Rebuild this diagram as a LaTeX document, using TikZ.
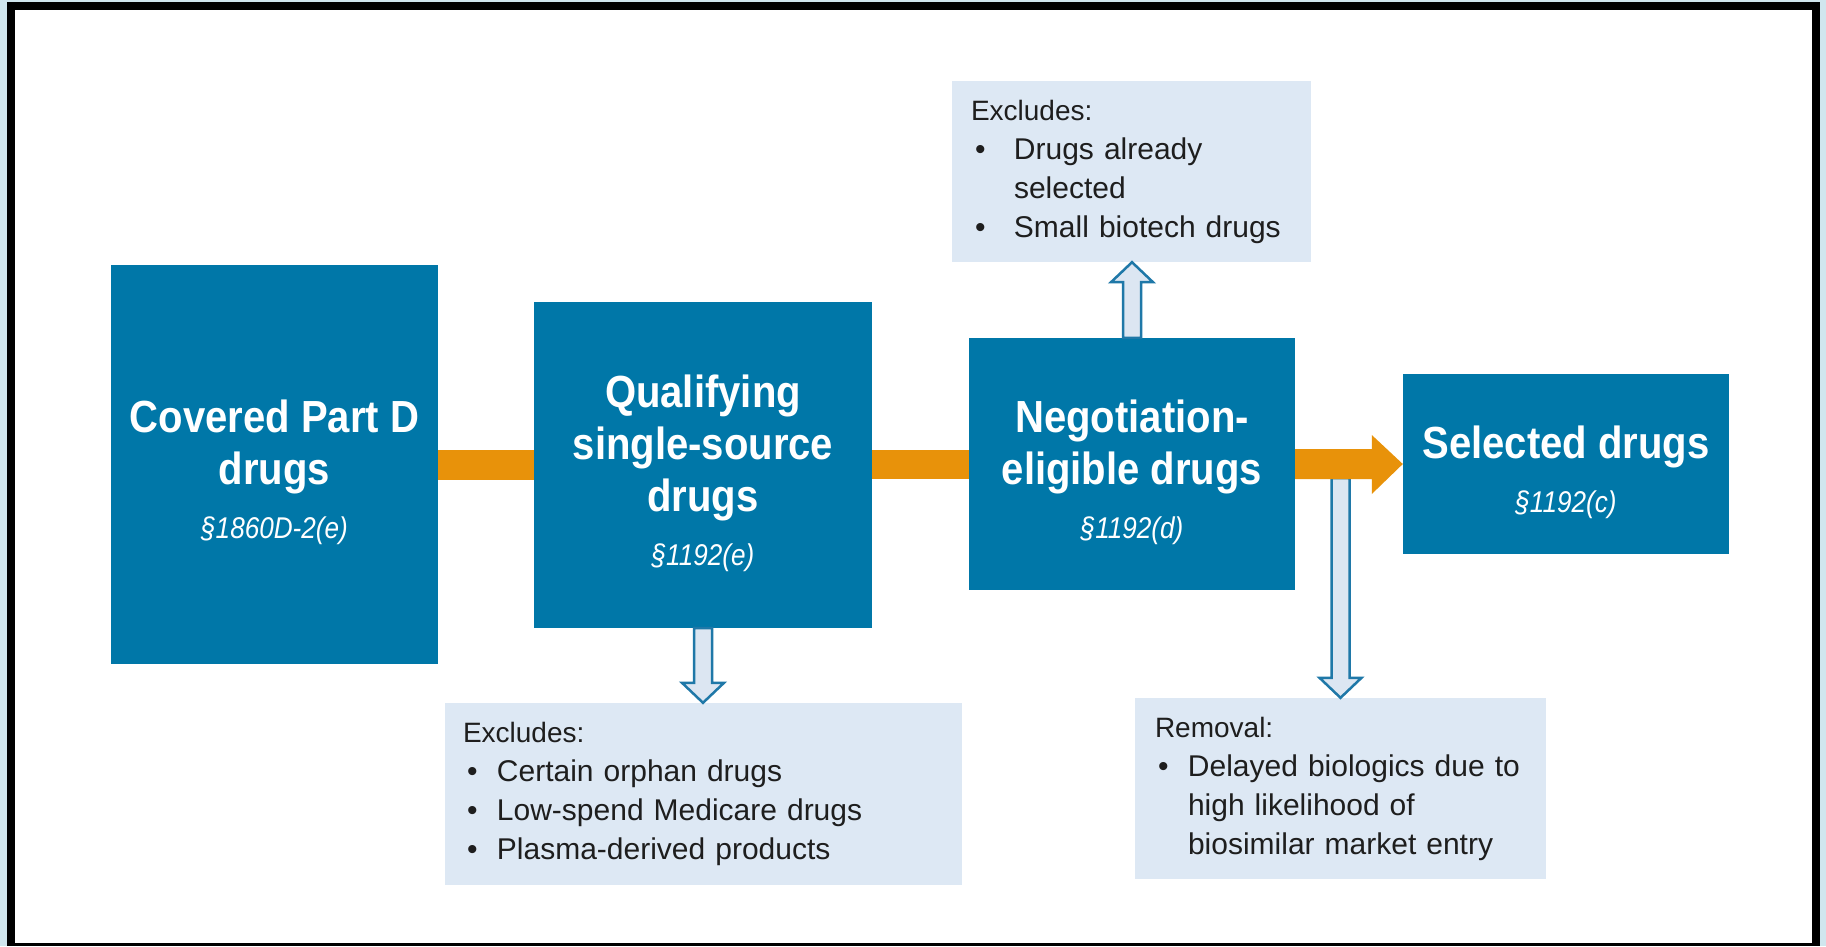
\documentclass[tikz,border=0pt]{standalone}
\usepackage{fontspec}
\setmainfont{Liberation Sans}
\newfontfamily\titlefont[FakeStretch=0.89]{Liberation Sans}
\newfontfamily\secfont[FakeStretch=0.87]{Liberation Sans}
\usetikzlibrary{calc}
\definecolor{boxblue}{RGB}{0,119,168}
\definecolor{lightbox}{RGB}{221,232,244}
\definecolor{flow}{RGB}{232,146,10}
\definecolor{arrowfill}{RGB}{220,230,242}
\definecolor{edgeblue}{RGB}{31,120,168}
\definecolor{strip}{RGB}{208,230,238}
\definecolor{bodytext}{RGB}{30,30,30}
\newcommand\secref[1]{{\secfont\fontsize{30}{34}\selectfont\mdseries\itshape #1}}
\newcommand\topstrut{\rule{0pt}{49pt}}
\newcommand\bul[2]{\hspace*{#1}\makebox[#2][l]{\textbullet}}
\newcommand\hdr[2]{\hspace*{#1}{\fontsize{28}{39}\selectfont #2}}
\newcommand\hollowarrow[3]{\draw[hollow] let \p1=(#1), \p2=(#2) in
  ({\x1-9pt},{\y1}) -- ({\x1-9pt},{\y2+#3}) -- ({\x1-21pt},{\y2+#3}) -- ({\x1},{\y2})
  -- ({\x1+21pt},{\y2+#3}) -- ({\x1+9pt},{\y2+#3}) -- ({\x1+9pt},{\y1}) -- cycle;}
\begin{document}
\begin{tikzpicture}[x=1pt,y=-1pt,
  mainbox/.style={fill=boxblue, text=white, inner sep=0pt, align=center,
    font=\titlefont\fontsize{45}{52}\selectfont\bfseries},
  notebox/.style={fill=lightbox, text=bodytext, inner sep=0pt, align=left,
    font=\fontsize{30}{39}\selectfont},
  hollow/.style={draw=edgeblue, fill=arrowfill, line width=2.5pt, line join=miter},
  flowbar/.style={fill=flow}]
% frame
\fill[strip] (0,0) rectangle (1826,946);
\fill[black] (7,2) rectangle (1820,946);
\fill[white] (15,10) rectangle (1812,943);
\useasboundingbox (0,0) rectangle (1826,946);
% main boxes
\node[mainbox, minimum width=327pt, minimum height=399pt] (cov) at (274.5,464.5)
  {\topstrut Covered Part D\\drugs\\[2pt]\secref{§1860D-2(e)}};
\node[mainbox, minimum width=338pt, minimum height=326pt] (qual) at (703,465)
  {\topstrut Qualifying\\single-source\\drugs\\[2pt]\secref{§1192(e)}};
\node[mainbox, minimum width=326pt, minimum height=252pt] (neg) at (1132,464)
  {\topstrut Negotiation-\\eligible drugs\\[2pt]\secref{§1192(d)}};
\node[mainbox, minimum width=326pt, minimum height=180pt] (sel) at (1566,464)
  {\topstrut Selected drugs\\[2pt]\secref{§1192(c)}};
% note boxes
\node[notebox, minimum width=359pt, minimum height=181pt, text width=359pt] (topex) at (1131.5,171.5)
  {\hdr{19pt}{Excludes:}\\
   \bul{23pt}{39pt}Drugs already\\
   \hspace*{62pt}selected\\
   \bul{23pt}{39pt}Small biotech drugs};
\node[notebox, minimum width=517pt, minimum height=182pt, text width=517pt] (botex) at (703.5,794)
  {\hdr{18pt}{Excludes:}\\
   \bul{22pt}{30pt}Certain orphan drugs\\
   \bul{22pt}{30pt}Low-spend Medicare drugs\\
   \bul{22pt}{30pt}Plasma-derived products};
\node[notebox, minimum width=411pt, minimum height=181pt, text width=411pt] (rem) at (1340.5,788.5)
  {\hdr{20pt}{Removal:}\\
   \bul{23pt}{30pt}Delayed biologics due to\\
   \hspace*{53pt}high likelihood of\\
   \hspace*{53pt}biosimilar market entry};
% hollow arrows
\hollowarrow{neg.north}{topex.south}{-20pt}
\hollowarrow{qual.south}{botex.north}{20pt}
\coordinate (rs) at ($(rem.north |- neg.east)+(0,14)$);
\hollowarrow{rs}{rem.north}{20pt}
% orange flow
\fill[flowbar] ([yshift=15pt]cov.east) rectangle ([yshift=-15pt]qual.west);
\fill[flowbar] ([yshift=15pt]qual.east) rectangle ([yshift=-15pt]neg.west);
\fill[flowbar] ([yshift=15pt]neg.east) -- ([xshift=-31pt,yshift=15pt]sel.west)
  -- ([xshift=-31pt,yshift=29pt]sel.west) -- (sel.west)
  -- ([xshift=-31pt,yshift=-30pt]sel.west) -- ([xshift=-31pt,yshift=-15pt]sel.west)
  -- ([yshift=-15pt]neg.east) -- cycle;
\end{tikzpicture}
\end{document}
